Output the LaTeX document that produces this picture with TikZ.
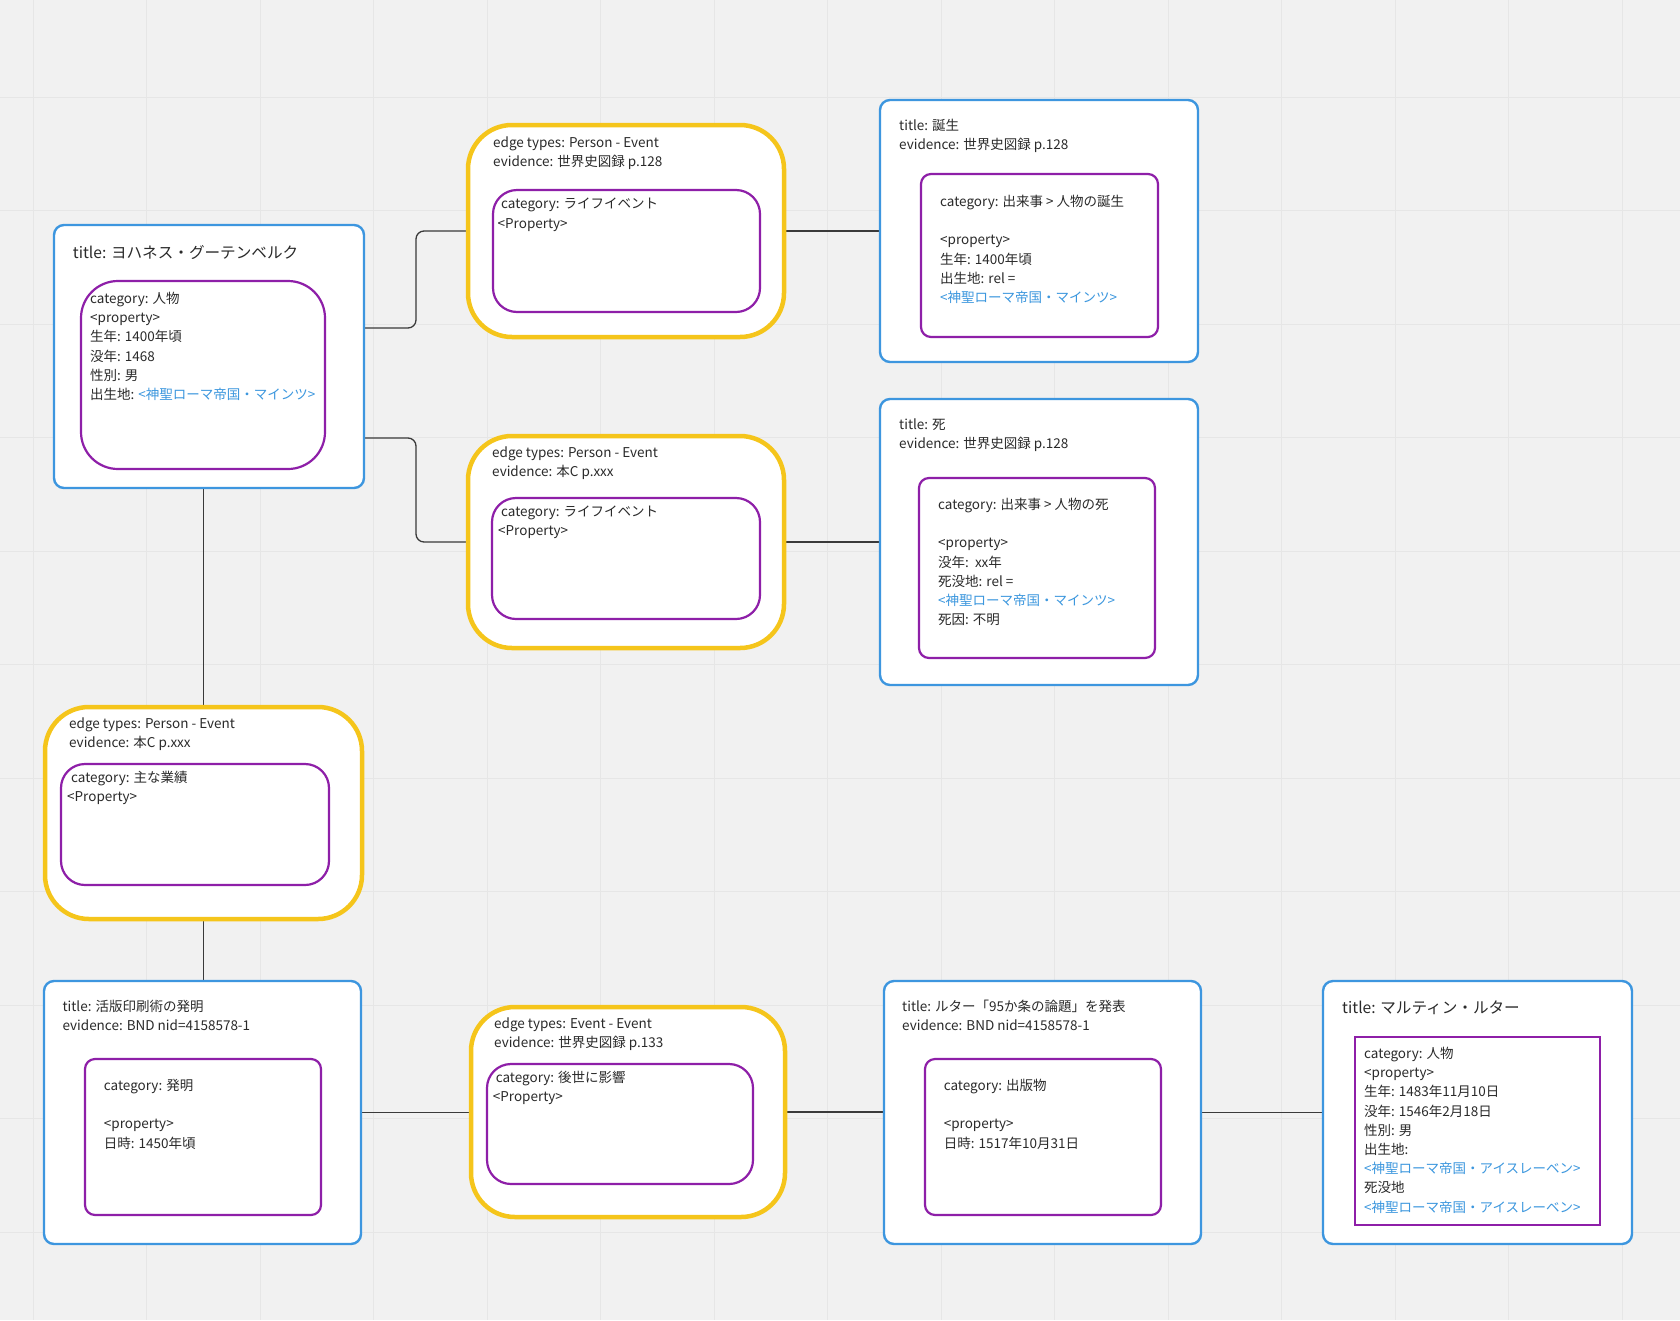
\documentclass[tikz,border=0pt]{standalone}
\usepackage{fontspec}
\setmainfont{Noto Sans CJK JP}
\usetikzlibrary{calc}
\definecolor{bgc}{HTML}{F1F1F1}
\definecolor{gridc}{HTML}{E6E6E6}
\definecolor{boxblue}{HTML}{3D96DF}
\definecolor{edgeyellow}{HTML}{F5C51B}
\definecolor{purp}{HTML}{8E1FA8}
\definecolor{linkblue}{HTML}{3C97DE}
\definecolor{textgray}{HTML}{2A2A2A}
\definecolor{linegray}{HTML}{3A3A3A}
\pgfdeclarelayer{bglayer}
\pgfsetlayers{bglayer,main}
\newcommand\boxat[6]{% name, style, x1, y1, x2, y2
  \node[#2, minimum width={(#5-#3)*1pt}, minimum height={(#6-#4)*1pt}] (#1) at ({(#3+#5)/2},{-(#4+#6)/2}) {};}
\newcommand\tlines[5]{% name, x, first baseline, font, list
  \foreach \l [count=\i from 0] in {#5} {\node[txt, font=#4] (#1-\i) at (#2, {-(#3+19.2*\i)}) {\l};}}
\newcommand\bodyf{\fontsize{13.5}{16}\selectfont}
\newcommand\titlef{\fontsize{15.6}{18}\selectfont}
\newcommand\lk[1]{{\color{linkblue}#1}}
\tikzset{
  shp/.style={inner sep=0pt, outer sep=0pt, fill=white, rectangle},
  nodebox/.style={shp, draw=boxblue, line width=2.4pt, rounded corners=10pt},
  edgebox/.style={shp, draw=edgeyellow, line width=4.5pt, rounded corners=44pt},
  innerbig/.style={shp, draw=purp, line width=2.2pt, rounded corners=37pt},
  inneredge/.style={shp, draw=purp, line width=2.2pt, rounded corners=24pt},
  innersmall/.style={shp, draw=purp, line width=2.2pt, rounded corners=10pt},
  innersquare/.style={shp, draw=purp, line width=2.2pt},
  txt/.style={anchor=base west, inner sep=0pt, text=textgray},
  conn/.style={draw=linegray, line width=1.3pt},
}
\begin{document}
\begin{tikzpicture}[x=1pt,y=1pt]
\useasboundingbox (0,0) rectangle (1680,-1320);
\begin{pgfonlayer}{bglayer}
\fill[bgc] (0,0) rectangle (1680,-1320);
\foreach \k in {0,...,14} {\draw[gridc, line width=1pt] ({33+113.5*\k},0) -- ({33+113.5*\k},-1320);}
\foreach \k in {0,...,10} {\draw[gridc, line width=1pt] (0,{-(97+113.5*\k)}) -- (1680,{-(97+113.5*\k)});}
\end{pgfonlayer}

% outer boxes
\boxat{P1}{nodebox}{54}{225}{364}{488}
\boxat{E1}{edgebox}{468}{125}{784}{337}
\boxat{B1}{nodebox}{880}{100}{1198}{362}
\boxat{E2}{edgebox}{468}{436}{784}{648}
\boxat{D1}{nodebox}{880}{399}{1198}{685}
\boxat{E3}{edgebox}{45}{707}{362}{919}
\boxat{V1}{nodebox}{44}{981}{361}{1244}
\boxat{E4}{edgebox}{471}{1007}{785}{1217}
\boxat{L1}{nodebox}{884}{981}{1201}{1244}
\boxat{M1}{nodebox}{1323}{981}{1632}{1244}

% inner boxes
\boxat{P1i}{innerbig}{81}{281}{325}{469}
\boxat{E1i}{inneredge}{493}{190}{760}{312}
\boxat{B1i}{innersmall}{921}{174}{1158}{337}
\boxat{E2i}{inneredge}{492}{498}{760}{619}
\boxat{D1i}{innersmall}{919}{478}{1155}{658}
\boxat{E3i}{inneredge}{61}{764}{329}{885}
\boxat{V1i}{innersmall}{85}{1059}{321}{1215}
\boxat{E4i}{inneredge}{487}{1064}{753}{1184}
\boxat{L1i}{innersmall}{925}{1059}{1161}{1215}
\boxat{M1i}{innersquare}{1355}{1037}{1600}{1225}

% texts
\tlines{tP1}{72.7}{258.5}{\titlef}{title: ヨハネス・グーテンベルク}
\tlines{tP1i}{90}{303.5}{\bodyf}{category: 人物,<property>,生年: 1400年頃,没年: 1468,性別: 男,出生地: \lk{<神聖ローマ帝国・マインツ>}}

\tlines{tE1}{493}{147.5}{\bodyf}{edge types: Person - Event,evidence: 世界史図録 p.128}
\tlines{tE1a}{501}{208.5}{\bodyf}{category: ライフイベント}
\tlines{tE1b}{497.5}{228.5}{\bodyf}{<Property>}

\tlines{tB1}{899}{130.5}{\bodyf}{title: 誕生,evidence: 世界史図録 p.128}
\tlines{tB1i}{940}{206.5}{\bodyf}{category: 出来事 > 人物の誕生,{},<property>,生年: 1400年頃,出生地: rel =,\lk{<神聖ローマ帝国・マインツ>}}

\tlines{tE2}{492}{457.5}{\bodyf}{edge types: Person - Event,evidence: 本C p.xxx}
\tlines{tE2a}{501}{516.5}{\bodyf}{category: ライフイベント}
\tlines{tE2b}{498}{535.5}{\bodyf}{<Property>}

\tlines{tD1}{899}{429.5}{\bodyf}{title: 死,evidence: 世界史図録 p.128}
\tlines{tD1i}{938}{509.5}{\bodyf}{category: 出来事 > 人物の死,{},<property>,没年:\ \ xx年,死没地: rel =,\lk{<神聖ローマ帝国・マインツ>},死因: 不明}

\tlines{tE3}{69}{728.5}{\bodyf}{edge types: Person - Event,evidence: 本C p.xxx}
\tlines{tE3a}{71}{782.5}{\bodyf}{category: 主な業績}
\tlines{tE3b}{67}{801.5}{\bodyf}{<Property>}

\tlines{tV1}{62.4}{1011.5}{\bodyf}{title: 活版印刷術の発明,evidence: BND nid=4158578-1}
\tlines{tV1i}{103.7}{1090.5}{\bodyf}{category: 発明,{},<property>,日時: 1450年頃}

\tlines{tE4}{494}{1028.5}{\bodyf}{edge types: Event - Event,evidence: 世界史図録 p.133}
\tlines{tE4a}{495.6}{1082.5}{\bodyf}{category: 後世に影響}
\tlines{tE4b}{492.7}{1101.5}{\bodyf}{<Property>}

\tlines{tL1}{902}{1011.5}{\bodyf}{title: ルター「95か条の論題」を発表,evidence: BND nid=4158578-1}
\tlines{tL1i}{943.6}{1090.5}{\bodyf}{category: 出版物,{},<property>,日時: 1517年10月31日}

\tlines{tM1}{1342}{1013.5}{\titlef}{title: マルティン・ルター}
\tlines{tM1i}{1364}{1058.5}{\bodyf}{category: 人物,<property>,生年: 1483年11月10日,没年: 1546年2月18日,性別: 男,出生地:,\lk{<神聖ローマ帝国・アイスレーベン>},死没地,\lk{<神聖ローマ帝国・アイスレーベン>}}

% connectors
\begin{pgfonlayer}{bglayer}
\coordinate (m1) at ($(P1.east)!0.5!(E1.west)$);
\draw[conn, rounded corners=8pt] ([yshift=28.5pt]P1.east) -| (m1 |- E1.west) -- (E1.west);
\draw[conn, rounded corners=8pt] ([yshift=-81.5pt]P1.east) -| (m1 |- E2.west) -- (E2.west);
\draw[conn] (E1.east) -- (B1.west);
\draw[conn] (E2.east) -- (D1.west);
\draw[conn] (E3.north |- P1.south) -- (E3.north);
\draw[conn] (E3.south) -- (E3.south |- V1.north);
\draw[conn] (V1.east) -- (V1.east -| E4.west);
\draw[conn] (E4.east) -- (E4.east -| L1.west);
\draw[conn] (L1.east) -- (M1.west);
\end{pgfonlayer}
\end{tikzpicture}
\end{document}
